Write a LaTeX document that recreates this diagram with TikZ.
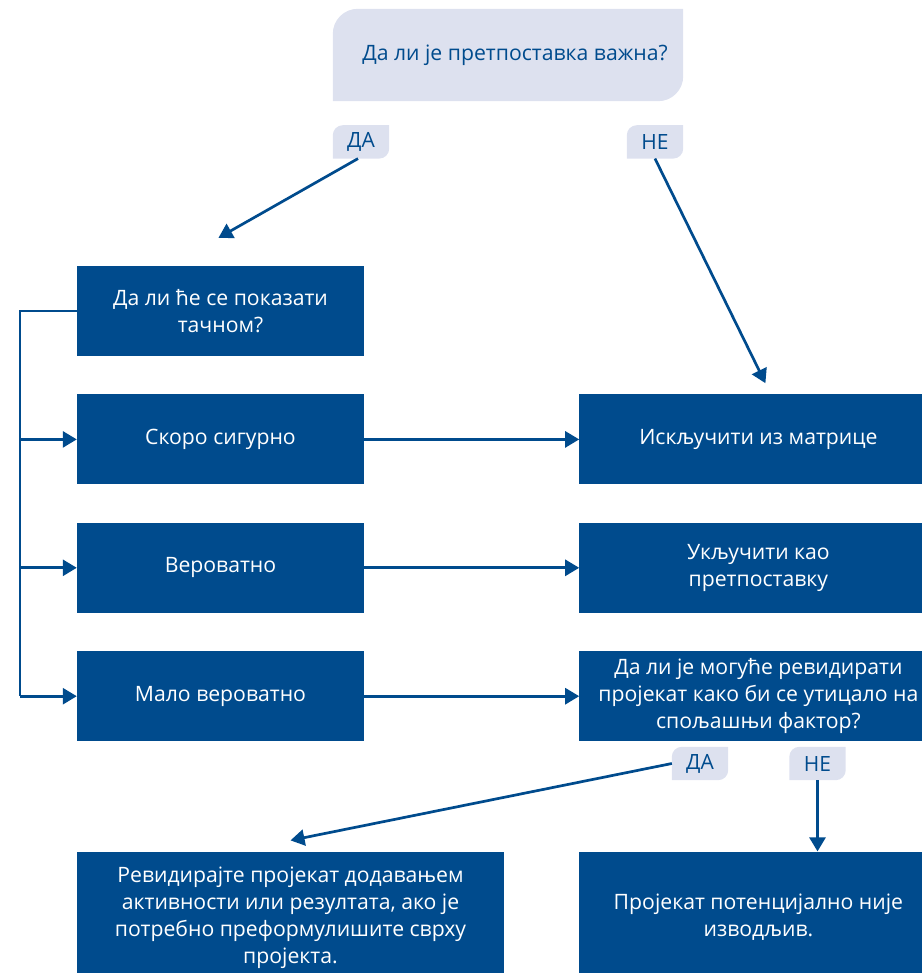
\documentclass[tikz,border=0pt]{standalone}
\usepackage{fontspec}
\setmainfont{Open Sans}
\usepackage{tikz}
\usetikzlibrary{positioning,arrows.meta,backgrounds}

\definecolor{navy}{HTML}{004B8D}
\definecolor{lav}{HTML}{DDE1EF}

% leaf shaped background behind a node: rounded top left and bottom right
\newcommand\leafbg[2]{%
  \fill[lav] (#1.south west) -- ([yshift=-#2]#1.north west)
    arc[start angle=180, end angle=90, radius=#2] -- (#1.north east)
    -- ([yshift=#2]#1.south east)
    arc[start angle=0, end angle=-90, radius=#2] -- cycle;}

\begin{document}
\begin{tikzpicture}[x=1pt, y=1pt, node distance=38pt and 215pt,
    box/.style={rectangle, fill=navy, text=white, align=center, inner sep=0pt,
      minimum width=287pt, minimum height=90pt, font=\fontsize{21.2}{27}\selectfont},
    wbox/.style={box, minimum width=358pt},
    tag/.style={rectangle, text=navy, inner sep=0pt, minimum width=56pt,
      minimum height=33pt, font=\fontsize{21}{24}\selectfont},
    link/.style={navy, line width=2.7pt, -{Triangle[length=14pt, width=16pt]}}]
  \useasboundingbox (0,0) rectangle (921,-973);

  \node (q) [rectangle, minimum width=350pt, minimum height=92pt, text=navy,
    font=\fontsize{21.2}{24}\selectfont] at (508,-55) {\hspace{14pt}Да ли је претпоставка важна?};
  \node (ta) [tag, below right=24pt and 0pt of q.south west] {ДА};
  \node (tb) [tag, below left=24pt and 0pt of q.south east] {НЕ};

  \node (l1) [box] at (220.5,-311) {Да ли ће се показати\\тачном?};
  \node (l2) [box, below=of l1] {Скоро сигурно};
  \node (l3) [box, below=of l2] {Вероватно};
  \node (l4) [box, below=of l3] {Мало вероватно};

  \node (r1) [wbox, right=of l2] {Искључити из матрице};
  \node (r2) [wbox, right=of l3] {Укључити као\\претпоставку};
  \node (r3) [wbox, right=of l4] {Да ли је могуће ревидирати\\пројекат како би се утицало на\\спољашњи фактор?};

  \node (tc) [tag] at (700,-763.5) {ДА};
  \node (td) [tag] at (817.5,-763.5) {НЕ};

  \node (b1) [box, minimum width=427pt, minimum height=132pt,
    below right=110pt and 0pt of l4.south west]
    {Ревидирајте пројекат додавањем\\активности или резултата, ако је\\потребно преформулишите сврху\\пројекта.};
  \node (b2) [wbox, minimum height=132pt, below=110pt of r3]
    {Пројекат потенцијално није\\изводљив.};

  \begin{scope}[on background layer]
    \leafbg{q}{25pt}
    \leafbg{ta}{10pt}
    \leafbg{tb}{10pt}
    \leafbg{tc}{10pt}
    \leafbg{td}{10pt}
  \end{scope}

  % rail on the left
  \coordinate (railtop) at (20,-311);
  \coordinate (railbot) at (railtop |- l4.west);
  \draw[navy, line width=2.7pt] (l1.west) -- (railtop) -- (railbot);
  \draw[link] (railtop |- l2.west) -- (l2.west);
  \draw[link] (railtop |- l3.west) -- (l3.west);
  \draw[link] (railbot) -- (l4.west);

  \draw[link] (l2.east) -- (r1.west);
  \draw[link] (l3.east) -- (r2.west);
  \draw[link] (l4.east) -- (r3.west);

  \draw[link] ([xshift=-3pt]ta.south) -- ([shift={(-2pt,28pt)}]l1.north);
  \draw[link] (tb.south) -- ([shift={(7pt,11pt)}]r1.north);
  \draw[link] (tc.west) -- ([yshift=11pt]b1.north);
  \draw[link] (td.south) -- (td.south |- b2.north);
\end{tikzpicture}
\end{document}
